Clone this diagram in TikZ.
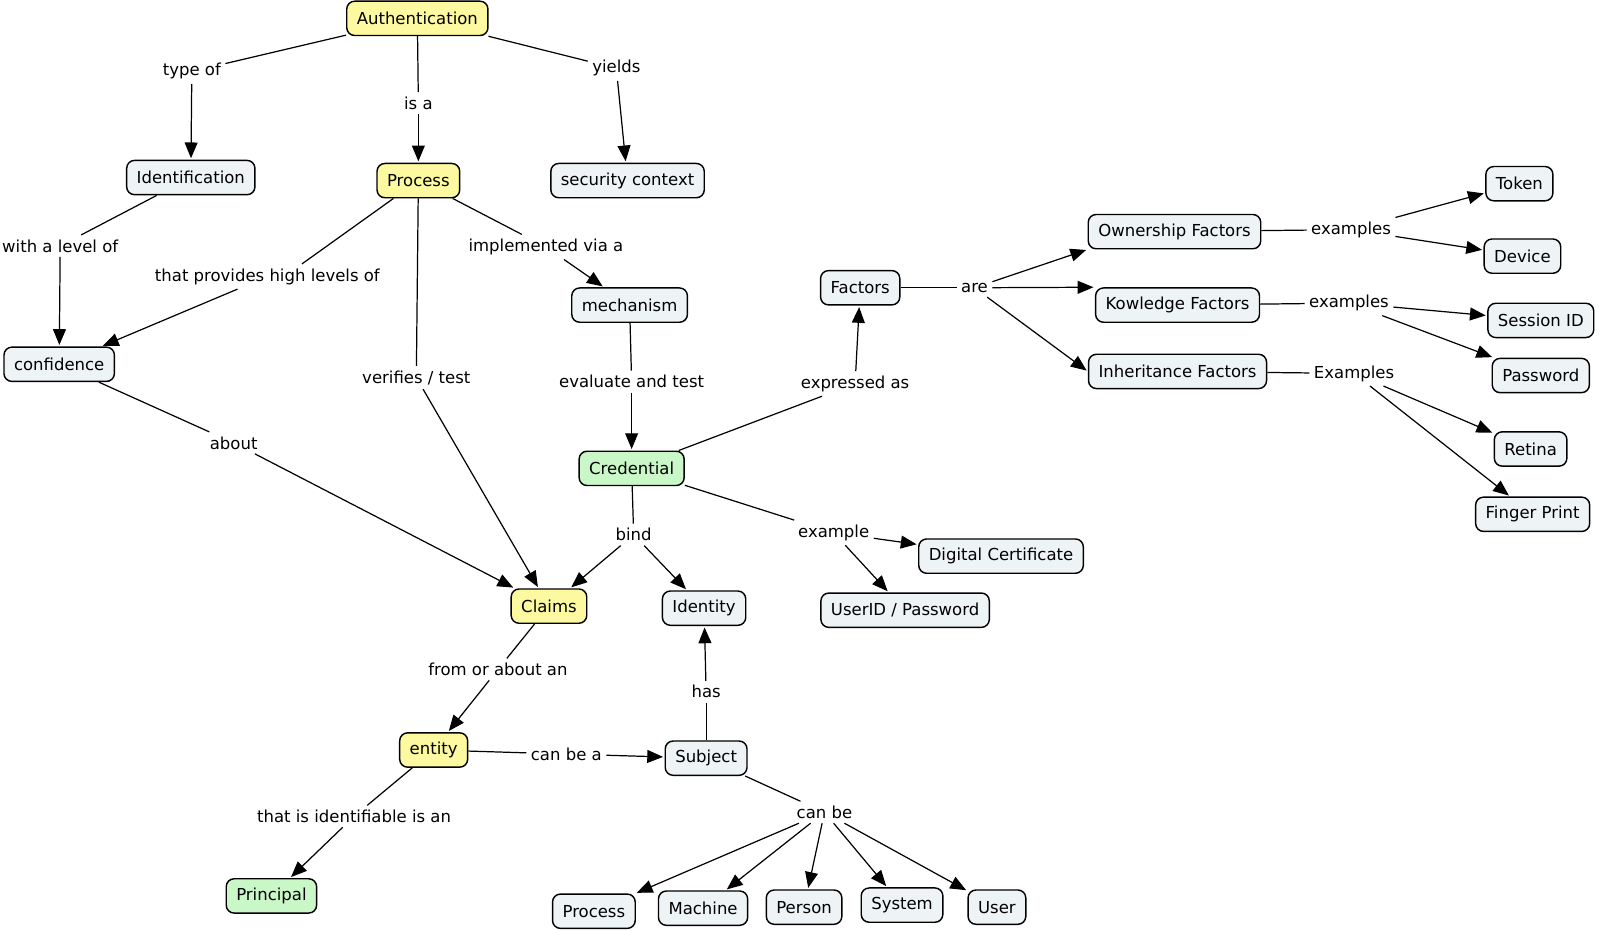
\documentclass[tikz,border=0pt]{standalone}
\usepackage{fontspec}
\setmainfont{DejaVu Sans}
\usetikzlibrary{arrows.meta}
\definecolor{conceptoGris}{RGB}{238,243,245}
\definecolor{conceptoAmarillo}{RGB}{252,249,160}
\definecolor{conceptoVerde}{RGB}{202,247,200}
\begin{document}
\begin{tikzpicture}[
    x=0.025cm, y=-0.025cm,
    every node/.style={font=\fontsize{11.5}{13}\selectfont},
    concepto/.style={draw, line width=1pt, rounded corners=5.5pt, fill=conceptoGris, inner xsep=7pt, minimum height=0.84cm},
    amarillo/.style={concepto, fill=conceptoAmarillo},
    verde/.style={concepto, fill=conceptoVerde},
    frase/.style={inner sep=3pt},
    enlace/.style={draw, line width=0.85pt},
    flecha/.style={enlace, -{Triangle[length=11pt,width=9pt]}, shorten >=1pt}
]
\useasboundingbox (0,0) rectangle (1568,912);
% Conceptos
\node[amarillo] (authentication) at (409,18) {Authentication};
\node[concepto] (identification) at (187,174) {Identification};
\node[amarillo] (process) at (410,177) {Process};
\node[concepto] (securityContext) at (615,177) {security context};
\node[concepto] (mechanism) at (617,299) {mechanism};
\node[concepto] (confidence) at (58,357) {confidence};
\node[verde] (credential) at (619,459) {Credential};
\node[concepto] (factors) at (843,282) {Factors};
\node[concepto] (ownership) at (1151,227) {Ownership Factors};
\node[concepto] (knowledge) at (1154,299) {Kowledge Factors};
\node[concepto] (inheritance) at (1154,364) {Inheritance Factors};
\node[concepto] (token) at (1489,180) {Token};
\node[concepto] (device) at (1492,251) {Device};
\node[concepto] (sessionID) at (1510,314) {Session ID};
\node[concepto] (password) at (1510,368) {Password};
\node[concepto] (retina) at (1500,440) {Retina};
\node[concepto] (fingerPrint) at (1502,504) {Finger Print};
\node[concepto] (certificate) at (981,545) {Digital Certificate};
\node[concepto] (userPassword) at (887,598) {UserID / Password};
\node[amarillo] (claims) at (538,594) {Claims};
\node[concepto] (identity) at (690,596) {Identity};
\node[amarillo] (entity) at (425,735) {entity};
\node[concepto] (subject) at (692,743) {Subject};
\node[verde] (principal) at (266,878) {Principal};
\node[concepto] (processB) at (582,893) {Process};
\node[concepto] (machine) at (689,890) {Machine};
\node[concepto] (person) at (788,889) {Person};
\node[concepto] (system) at (884,887) {System};
\node[concepto] (user) at (977,889) {User};
% Frases de enlace
\node[frase] (typeOf) at (188,70) {type of};
\node[frase] (isA) at (410,101) {is a};
\node[frase] (yields) at (604,67) {yields};
\node[frase] (levelOf) at (59,241) {with a level of};
\node[frase] (provides) at (262,271) {that provides high levels of};
\node[frase] (implemented) at (535,242) {implemented via a};
\node[frase] (verifies) at (408,370) {verifies / test};
\node[frase] (evaluate) at (619,374) {evaluate and test};
\node[frase] (about) at (229,434) {about};
\node[frase] (expressed) at (838,376) {expressed as};
\node[frase] (are) at (955,282) {are};
\node[frase] (examplesO) at (1324,225) {examples};
\node[frase] (examplesK) at (1322,297) {examples};
\node[frase] (examplesI) at (1327,366) {Examples};
\node[frase] (bind) at (621,524) {bind};
\node[frase] (example) at (817,522) {example};
\node[frase] (fromAbout) at (488,656) {from or about an};
\node[frase] (has) at (692,678) {has};
\node[frase] (canBeA) at (555,739) {can be a};
\node[frase] (identifiable) at (347,800) {that is identifiable is an};
\node[frase] (canBe) at (808,796) {can be};
% Aristas
\draw[enlace] (authentication) -- (typeOf);
\draw[flecha] (typeOf) -- (identification);
\draw[enlace] (authentication) -- (isA);
\draw[flecha] (isA) -- (process);
\draw[enlace] (authentication) -- (yields);
\draw[flecha] (yields) -- (securityContext);
\draw[enlace] (identification) -- (levelOf);
\draw[flecha] (levelOf) -- (confidence);
\draw[enlace] (process) -- (provides.20);
\draw[flecha] (provides) -- (confidence);
\draw[enlace] (process) -- (implemented);
\draw[flecha] (implemented) -- (mechanism);
\draw[enlace] (process) -- (verifies);
\draw[flecha] (verifies) -- (claims);
\draw[enlace] (mechanism) -- (evaluate);
\draw[flecha] (evaluate) -- (credential);
\draw[enlace] (confidence) -- (about);
\draw[flecha] (about) -- (claims);
\draw[enlace] (credential) -- (expressed);
\draw[flecha] (expressed) -- (factors);
\draw[enlace] (factors) -- (are);
\draw[flecha] (are) -- (ownership.south west);
\draw[flecha] (are) -- (knowledge.north west);
\draw[flecha] (are) -- (inheritance.west);
\draw[enlace] (ownership) -- (examplesO);
\draw[flecha] (examplesO) -- (token);
\draw[flecha] (examplesO) -- (device);
\draw[enlace] (knowledge) -- (examplesK);
\draw[flecha] (examplesK) -- (sessionID);
\draw[flecha] (examplesK) -- (password);
\draw[enlace] (inheritance) -- (examplesI);
\draw[flecha] (examplesI) -- (retina);
\draw[flecha] (examplesI) -- (fingerPrint);
\draw[enlace] (credential) -- (bind);
\draw[flecha] (bind) -- (claims);
\draw[flecha] (bind) -- (identity);
\draw[enlace] (credential) -- (example);
\draw[flecha] (example) -- (certificate);
\draw[flecha] (example) -- (userPassword);
\draw[enlace] (claims) -- (fromAbout);
\draw[flecha] (fromAbout) -- (entity);
\draw[enlace] (subject) -- (has);
\draw[flecha] (has) -- (identity);
\draw[enlace] (entity) -- (canBeA);
\draw[flecha] (canBeA) -- (subject);
\draw[enlace] (entity) -- (identifiable);
\draw[flecha] (identifiable) -- (principal);
\draw[enlace] (subject) -- (canBe);
\draw[flecha] (canBe) -- (processB);
\draw[flecha] (canBe) -- (machine);
\draw[flecha] (canBe) -- (person);
\draw[flecha] (canBe) -- (system);
\draw[flecha] (canBe) -- (user);
\end{tikzpicture}
\end{document}
